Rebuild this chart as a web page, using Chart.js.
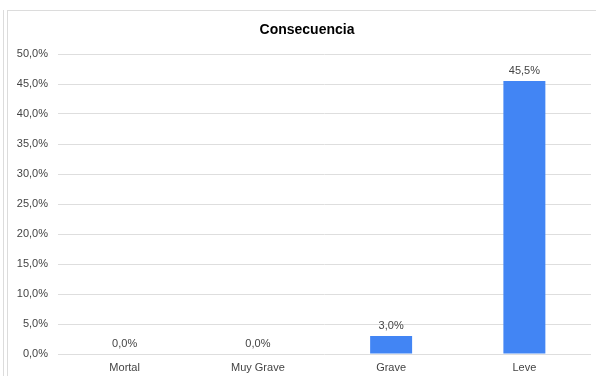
<!DOCTYPE html>
<html>
<head>
<meta charset="utf-8">
<script src="https://cdn.jsdelivr.net/npm/chart.js@4/dist/chart.umd.min.js"></script>
<style>
html,body{margin:0;padding:0;background:#fff;}
#wrap{position:relative;width:596px;height:376px;overflow:hidden;}
#lline{position:absolute;left:3px;top:10px;width:1px;height:380px;background:#dcdcdc;}
#box{position:absolute;left:7px;top:10px;width:600px;height:380px;border-left:1px solid #dcdcdc;border-top:1px solid #dcdcdc;box-sizing:border-box;}
#c{position:absolute;left:0;top:0;}
</style>
</head>
<body>
<div id="wrap">
<div id="lline"></div>
<div id="box"></div>
<canvas id="c" width="596" height="376"></canvas>
</div>
<script>
const categories = ["Mortal", "Muy Grave", "Grave", "Leve"];
const values = [0.0, 0.0, 3.0, 45.5];
const chartTitle = "Consecuencia";

const FONT = '"Liberation Sans", Arial, sans-serif';
const fmt = v => v.toFixed(1).replace('.', ',') + '%';

const labelPlugin = {
  id: 'valueLabels',
  afterDatasetsDraw(chart) {
    const ctx = chart.ctx;
    const meta = chart.getDatasetMeta(0);
    ctx.save();
    ctx.font = '11px ' + FONT;
    ctx.fillStyle = '#444444';
    ctx.textAlign = 'center';
    ctx.textBaseline = 'bottom';
    meta.data.forEach((bar, i) => {
      ctx.fillText(fmt(values[i]), bar.x, bar.y - 5);
    });
    // chart title
    ctx.font = 'bold 14px ' + FONT;
    ctx.fillStyle = '#000';
    ctx.textBaseline = 'middle';
    ctx.fillText(chartTitle, 307, 30);
    ctx.restore();
  }
};

new Chart(document.getElementById('c'), {
  type: 'bar',
  data: {
    labels: categories,
    datasets: [{
      data: values,
      backgroundColor: '#4285f4',
      borderWidth: 0,
      categoryPercentage: 1.0,
      barPercentage: 0.315
    }]
  },
  options: {
    responsive: false,
    animation: false,
    layout: { padding: { left: 5, right: 5, top: 54, bottom: 2 } },
    plugins: {
      legend: { display: false },
      tooltip: { enabled: false },
      title: { display: false }
    },
    scales: {
      x: {
        afterFit(scale) { scale.height = 20; },
        grid: { display: false, drawTicks: false },
        border: { display: false },
        ticks: {
          color: '#444',
          font: { family: FONT, size: 11 },
          padding: 7,
          maxRotation: 0
        }
      },
      y: {
        min: 0, max: 50,
        afterFit(scale) { scale.width = 53; },
        grid: { color: '#dedede', drawTicks: false },
        border: { display: false },
        ticks: {
          stepSize: 5,
          color: '#444',
          font: { family: FONT, size: 11 },
          padding: 10,
          callback: v => fmt(v)
        }
      }
    }
  },
  plugins: [labelPlugin]
});
</script>
</body>
</html>
